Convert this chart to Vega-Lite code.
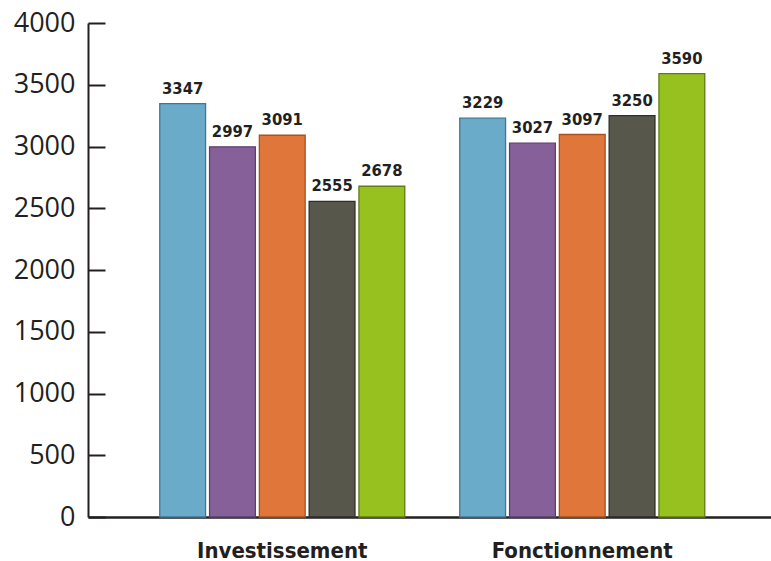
{
  "$schema": "https://vega.github.io/schema/vega-lite/v6.json",
  "width": 683,
  "height": 494,
  "autosize": "none",
  "padding": {"left": 88, "top": 23, "right": 0, "bottom": 44},
  "background": "white",
  "config": {"view": {"stroke": null}},
  "data": {
    "values": [
      {"categorie": "Investissement", "serie": "Série 1", "valeur": 3347},
      {"categorie": "Investissement", "serie": "Série 2", "valeur": 2997},
      {"categorie": "Investissement", "serie": "Série 3", "valeur": 3091},
      {"categorie": "Investissement", "serie": "Série 4", "valeur": 2555},
      {"categorie": "Investissement", "serie": "Série 5", "valeur": 2678},
      {"categorie": "Fonctionnement", "serie": "Série 1", "valeur": 3229},
      {"categorie": "Fonctionnement", "serie": "Série 2", "valeur": 3027},
      {"categorie": "Fonctionnement", "serie": "Série 3", "valeur": 3097},
      {"categorie": "Fonctionnement", "serie": "Série 4", "valeur": 3250},
      {"categorie": "Fonctionnement", "serie": "Série 5", "valeur": 3590}
    ]
  },
  "encoding": {
    "x": {
      "field": "categorie",
      "type": "nominal",
      "sort": ["Investissement", "Fonctionnement"],
      "scale": {"paddingInner": 0.1833, "paddingOuter": 0.23, "align": 0.52},
      "axis": {
        "title": null,
        "labelAngle": 0,
        "ticks": false,
        "domainColor": "#231f20",
        "domainWidth": 2.5,
        "labelFont": "DejaVu Sans Condensed",
        "labelFontWeight": "bold",
        "labelFontSize": 22,
        "labelColor": "#231f20",
        "labelBaseline": "alphabetic",
        "labelPadding": 40,
        "labelLimit": 0
      }
    },
    "xOffset": {
      "field": "serie",
      "type": "nominal",
      "scale": {"paddingInner": 0.08, "paddingOuter": 0}
    },
    "y": {
      "field": "valeur",
      "type": "quantitative",
      "scale": {"domain": [0, 4000], "nice": false},
      "axis": {
        "title": null,
        "grid": false,
        "format": "d",
        "values": [0, 500, 1000, 1500, 2000, 2500, 3000, 3500, 4000],
        "tickSize": -17,
        "tickWidth": 2,
        "tickColor": "#231f20",
        "domainColor": "#231f20",
        "domainWidth": 2,
        "labelFont": "Open Sans",
        "labelFontSize": 27,
        "labelColor": "#231f20",
        "labelPadding": 30
      }
    }
  },
  "layer": [
    {
      "mark": {"type": "bar", "strokeWidth": 1.3},
      "encoding": {
        "color": {
          "field": "serie",
          "type": "nominal",
          "scale": {"range": ["#6aabca", "#866099", "#e0763a", "#57574b", "#97c11f"]},
          "legend": null
        },
        "stroke": {
          "field": "serie",
          "type": "nominal",
          "scale": {"range": ["#3f7896", "#5e3f70", "#a8521f", "#2f2f28", "#5f7d12"]},
          "legend": null
        }
      }
    },
    {
      "mark": {
        "type": "text",
        "baseline": "alphabetic",
        "dy": -10,
        "font": "DejaVu Sans Condensed",
        "fontWeight": "bold",
        "fontSize": 16.5,
        "color": "#231f20"
      },
      "encoding": {
        "text": {"field": "valeur", "type": "quantitative", "format": "d"}
      }
    }
  ]
}
